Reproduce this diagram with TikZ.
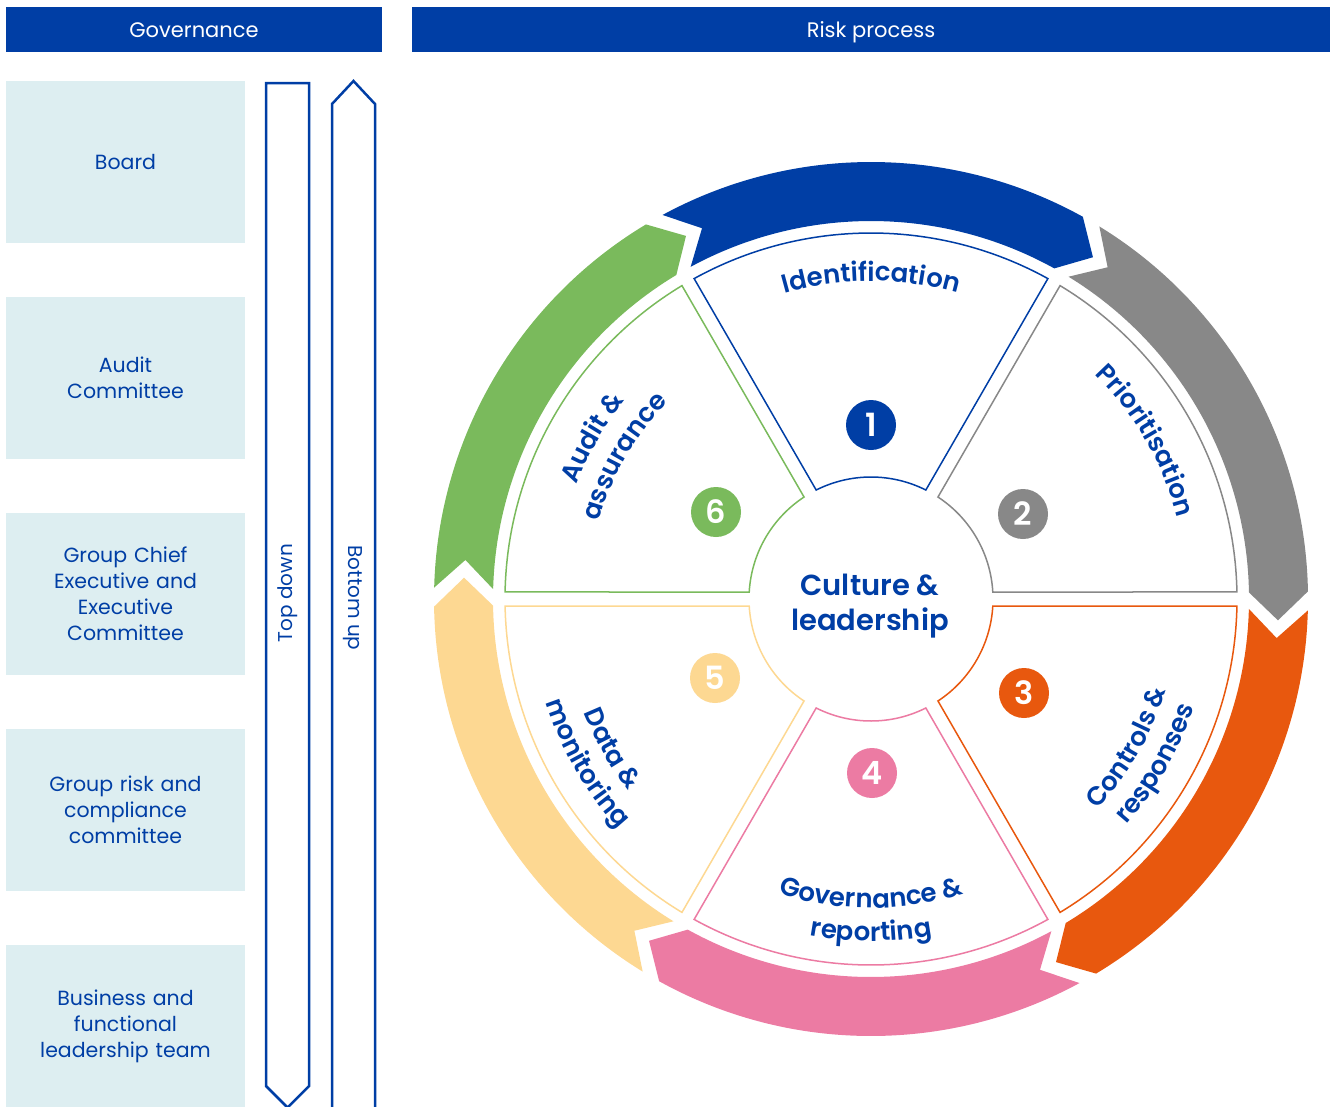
\documentclass[tikz,border=0pt]{standalone}
\usepackage{fontspec}
\setmainfont{Poppins}
\newfontfamily\medfont{Poppins SemiBold}
\usetikzlibrary{positioning,decorations.text}
\definecolor{riskblue}{RGB}{0,62,165}
\definecolor{riskgrey}{RGB}{136,136,136}
\definecolor{riskorange}{RGB}{232,88,14}
\definecolor{riskpink}{RGB}{236,123,163}
\definecolor{riskyellow}{RGB}{253,216,146}
\definecolor{riskgreen}{RGB}{122,186,92}
\definecolor{boxblue}{RGB}{221,238,241}
\newcommand{\lblfont}{\medfont\fontsize{26}{26}\selectfont\color{riskblue}}
\newcommand{\band}[2]{\fill[#1] ({#2+58.5}:437) arc[start angle=#2+58.5, end angle=#2+1, radius=437]
  -- ({#2-3}:407.5) -- ({#2+1}:378) arc[start angle=#2+1, end angle=#2+58.5, radius=378]
  -- ({#2+54.5}:407.5) -- cycle;}
\newcommand{\sector}[2]{\draw[#1, line width=1.5, fill=white] ({#2+1.1}:366) arc[start angle=#2+1.1, end angle=#2+58.9, radius=366]
  -- ({#2+56.71}:122) arc[start angle=#2+56.71, end angle=#2+3.29, radius=122] -- cycle;}
\newcommand{\arclabel}[4]{\path[decorate, decoration={text along path, text align=center, text={|\lblfont|#4}}]
  (#2:#1) arc[start angle=#2, end angle=#3, radius=#1];}

\begin{document}
\begin{tikzpicture}[x=1pt, y=1pt, node distance=216pt, on grid,
    header/.style={fill=riskblue, text=white, minimum height=45, inner sep=0, text height=18, text depth=3,
      font=\fontsize{21}{21}\selectfont},
    govbox/.style={fill=boxblue, text=riskblue, minimum width=239, minimum height=162, inner sep=0,
      text width=210, align=center, font=\fontsize{20.5}{26}\selectfont},
    numdot/.style={circle, minimum size=50, inner sep=0, text=white, font=\medfont\fontsize{32}{32}\selectfont},
    flow/.style={riskblue, line width=2.5, line join=miter}]
   \useasboundingbox (0,0) rectangle (1332,-1106);
   \node[header, minimum width=376] (govhead) at (194,-29.5) {Governance};
   \node[header, minimum width=918] (riskhead) at (871,-29.5) {Risk process};
   \node[govbox] (board) at (125.5,-162) {Board};
   \node[govbox] (audit) [below=of board] {Audit\\Committee};
   \node[govbox] (exec) [below=of audit] {Group Chief\\Executive and\\Executive\\Committee};
   \node[govbox] (grc) [below=of exec] {Group risk and\\compliance\\committee};
   \node[govbox] (blt) [below=of grc] {Business and\\functional\\leadership team};
   \draw[flow] (266,-83) -- (309,-83) -- (309,-1086) -- (287.5,-1107.5) -- (266,-1086) -- cycle;
   \draw[flow] (332,-1115) -- (332,-104) -- (353.5,-81) -- (375,-104) -- (375,-1115);
   \node[rotate=90, text=riskblue, font=\fontsize{20}{20}\selectfont] (topdown) at (288,-593) {Top down};
   \node[rotate=-90, text=riskblue, font=\fontsize{20}{20}\selectfont] (bottomup) at (353,-598) {Bottom up};
   \begin{scope}[shift={(871,-599)}]
     \band{riskblue}{60}
     \band{riskgrey}{0}
     \band{riskorange}{-60}
     \band{riskpink}{-120}
     \band{riskyellow}{-180}
     \band{riskgreen}{120}
     \sector{riskblue}{60}
     \sector{riskgrey}{0}
     \sector{riskorange}{-60}
     \sector{riskpink}{-120}
     \sector{riskyellow}{180}
     \sector{riskgreen}{120}
     \arclabel{318}{120}{60}{Identification}
     \arclabel{317}{60}{0}{Prioritisation}
     \arclabel{309}{-60}{0}{Controls {\&}}
     \arclabel{341}{-60}{0}{responses}
     \arclabel{309}{240}{300}{Governance {\&}}
     \arclabel{342}{240}{300}{reporting}
     \arclabel{309}{180}{240}{Data {\&}}
     \arclabel{341}{180}{240}{monitoring}
     \arclabel{316}{180}{120}{Audit {\&}}
     \arclabel{283}{180}{120}{assurance}
     \node[numdot, fill=riskblue] (n1) at (0,174) {1};
     \node[numdot, fill=riskgrey] (n2) at (152,85) {2};
     \node[numdot, fill=riskorange] (n3) at (153,-94) {3};
     \node[numdot, fill=riskpink] (n4) at (1,-174) {4};
     \node[numdot, fill=riskyellow] (n5) at (-156,-79) {5};
     \node[numdot, fill=riskgreen] (n6) at (-155,87) {6};
     \node[text=riskblue, align=center, font=\medfont\fontsize{29}{35}\selectfont] (core) at (-1,-7) {Culture \&\\leadership};
   \end{scope}
\end{tikzpicture}
\end{document}
